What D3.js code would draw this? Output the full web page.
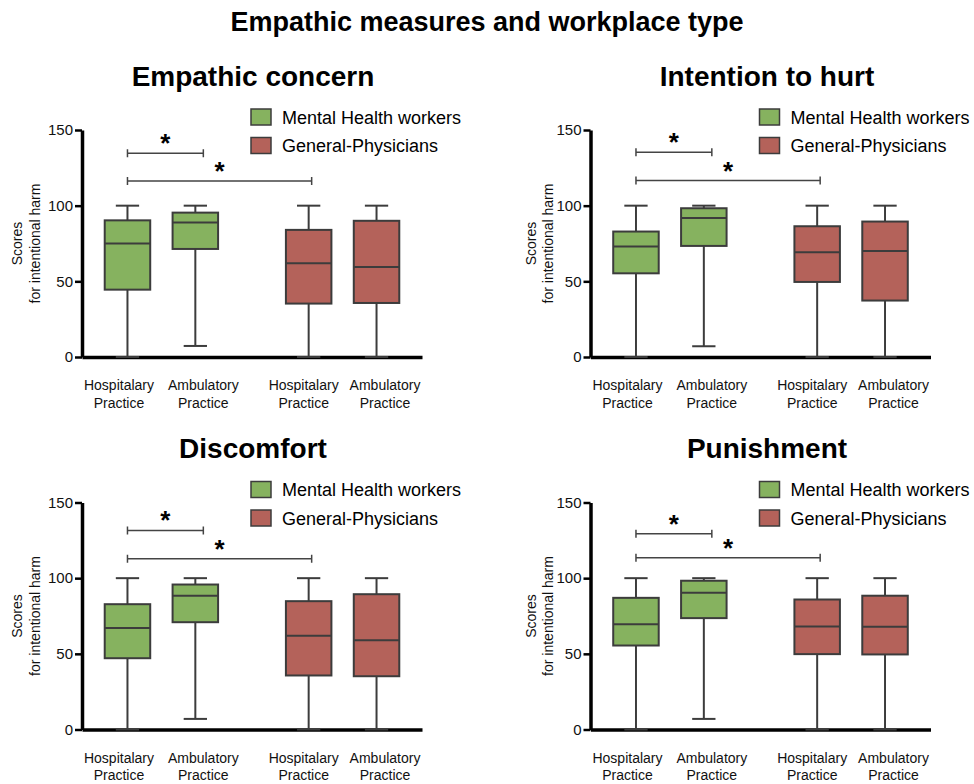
<!DOCTYPE html>
<html>
<head>
<meta charset="utf-8">
<script src="https://cdn.jsdelivr.net/npm/d3@7"></script>
<style>
body { margin: 0; background: #fff; }
svg { display: block; font-family: "Liberation Sans", Arial, sans-serif; }
</style>
</head>
<body>
<svg width="974" height="784"></svg>
<script>
var chartTitle = "Empathic measures and workplace type";
var panelTitles = ["Empathic concern", "Intention to hurt", "Discomfort", "Punishment"];
var seriesNames = ["Mental Health workers", "General-Physicians"];
var boxSeries = [0, 0, 1, 1];
var xLabels = [["Hospitalary", "Practice"], ["Ambulatory", "Practice"],
               ["Hospitalary", "Practice"], ["Ambulatory", "Practice"]];
var yTicks = [0, 50, 100, 150];
var yLabel = ["Scores", "for intentional harm"];

// box statistics, one row per panel, one value per box
var whiskerLow  = [[0, 7.3, 0, 0], [0, 7.1, 0, 0], [0, 7, 0, 0], [0, 7, 0, 0]];
var quart1      = [[44.5, 71.4, 35.3, 35.7], [55.3, 73.4, 49.6, 37.3], [47.1, 70.9, 35.7, 35.2], [55.5, 73.6, 49.8, 49.6]];
var medians     = [[75, 88.8, 62, 59.5], [73, 91.9, 69.2, 70.1], [67, 88.3, 61.9, 59], [69.6, 90.3, 68.1, 67.9]];
var quart3      = [[90.3, 95.4, 84, 90], [82.9, 98.3, 86.4, 89.5], [82.8, 95.8, 84.8, 89.4], [87, 98.3, 85.9, 88.4]];
var whiskerHigh = [[100, 100, 100, 100], [100, 100, 100, 100], [100, 100, 100, 100], [100, 100, 100, 100]];

// significance brackets: box index pairs and height on the score axis
var bracketFrom = [0, 0];
var bracketTo = [1, 2];
var bracketY = [[134.6, 116.3], [135.3, 116.6], [131.5, 112.8], [129.3, 113.5]];
var sigMark = "*";

var colors = ["#86b25f", "#b4625a"];
var lineColor = "#3c3c3c";

var colX = [82, 590.5];
var rowY = [130, 502.5];
var plotW = 340, plotH = 227;
var groupGap = 0.67;
var boxW = 45.5, capW = 23.3;
var labelDx = [-8.5, 8, -5, 8.5];
var bracketNudge = [8, 3];

var svg = d3.select("svg");

svg.append("text")
.text(chartTitle)
.attr("x", 487)
.attr("y", 31)
.attr("text-anchor", "middle")
.attr("font-weight", "bold")
.attr("font-size", "27px");

panelTitles.forEach(function (title, p) {
	var col = p % 2, row = Math.floor(p / 2);
	var x0 = colX[col], top = rowY[row];

	var y = d3.scaleLinear().domain([0, 150]).range([top + plotH, top]);
	var x = d3.scaleLinear().domain([-groupGap, 3 + groupGap * 2]).range([x0, x0 + plotW]);
	var slot = function (i) { return x(i + (boxSeries[i] ? groupGap : 0)); };

	var g = svg.append("g");

	g.append("text")
	.text(title)
	.attr("x", x0 + 171 + col * 5.5)
	.attr("y", top - 44.5)
	.attr("text-anchor", "middle")
	.attr("font-weight", "bold")
	.attr("font-size", "28px");

	// legend
	seriesNames.forEach(function (name, s) {
		var ly = top - 21 + s * 28.5;
		g.append("rect")
		.attr("x", x0 + 169)
		.attr("y", ly)
		.attr("width", 20)
		.attr("height", 16)
		.attr("fill", colors[s])
		.attr("stroke", lineColor)
		.attr("stroke-width", 1.5);
		g.append("text")
		.text(name)
		.attr("x", x0 + 200)
		.attr("y", ly + 14.5)
		.attr("font-size", "18px");
	});

	// y axis
	var yAxis = g.append("g")
	.attr("transform", "translate(" + x0 + ",0)")
	.call(d3.axisLeft(y).tickValues(yTicks).tickSize(7).tickSizeOuter(0).tickPadding(2));
	yAxis.select(".domain").attr("stroke", "#000").attr("stroke-width", 3.5);
	yAxis.selectAll(".tick line").attr("stroke", "#000").attr("stroke-width", 2.5);
	yAxis.selectAll(".tick text")
	.attr("font-size", "15px")
	.attr("font-family", "'Liberation Sans', Arial, sans-serif")
	.attr("fill", "#111");

	// x axis
	var xAxis = g.append("g")
	.attr("transform", "translate(0," + y(0) + ")")
	.call(d3.axisBottom(x).tickValues([]).tickSizeOuter(0));
	xAxis.select(".domain").attr("stroke", "#000").attr("stroke-width", 3.5);

	xLabels.forEach(function (lines, i) {
		lines.forEach(function (line, k) {
			g.append("text")
			.text(line)
			.attr("x", slot(i) + labelDx[i])
			.attr("y", y(0) + 33 + k * 17.5)
			.attr("text-anchor", "middle")
			.attr("font-size", "14px")
			.attr("fill", "#111");
		});
	});

	// y axis title
	var yMid = (y(0) + y(150)) / 2;
	yLabel.forEach(function (line, k) {
		g.append("text")
		.text(line)
		.attr("transform", "translate(" + (x0 - 60 + col * 5 + k * 17.7) + "," + yMid + ") rotate(-90)")
		.attr("text-anchor", "middle")
		.attr("font-size", "14px")
		.attr("fill", "#111");
	});

	// boxes
	boxSeries.forEach(function (s, i) {
		var cx = slot(i);
		g.append("line")
		.attr("x1", cx).attr("x2", cx)
		.attr("y1", y(whiskerLow[p][i])).attr("y2", y(quart1[p][i]))
		.attr("stroke", lineColor).attr("stroke-width", 2);
		g.append("line")
		.attr("x1", cx).attr("x2", cx)
		.attr("y1", y(quart3[p][i])).attr("y2", y(whiskerHigh[p][i]))
		.attr("stroke", lineColor).attr("stroke-width", 2);
		[whiskerLow[p][i], whiskerHigh[p][i]].forEach(function (v) {
			g.append("line")
			.attr("x1", cx - capW / 2).attr("x2", cx + capW / 2)
			.attr("y1", y(v)).attr("y2", y(v))
			.attr("stroke", lineColor).attr("stroke-width", 2);
		});
		g.append("rect")
		.attr("x", cx - boxW / 2)
		.attr("y", y(quart3[p][i]))
		.attr("width", boxW)
		.attr("height", y(quart1[p][i]) - y(quart3[p][i]))
		.attr("fill", colors[s])
		.attr("stroke", lineColor)
		.attr("stroke-width", 2);
		g.append("line")
		.attr("x1", cx - boxW / 2).attr("x2", cx + boxW / 2)
		.attr("y1", y(medians[p][i])).attr("y2", y(medians[p][i]))
		.attr("stroke", lineColor).attr("stroke-width", 2);
	});

	// significance brackets
	bracketFrom.forEach(function (a, b) {
		var xa = slot(a), xb = slot(bracketTo[b]) + bracketNudge[b];
		var by = y(bracketY[p][b]);
		g.append("path")
		.attr("d", "M" + xa + "," + (by - 4) + "V" + (by + 4) + "M" + xa + "," + by + "H" + xb +
			"M" + xb + "," + (by - 4) + "V" + (by + 4))
		.attr("fill", "none")
		.attr("stroke", "#444")
		.attr("stroke-width", 1.5);
		g.append("text")
		.text(sigMark)
		.attr("x", (xa + xb) / 2)
		.attr("y", by - 1)
		.attr("text-anchor", "middle")
		.attr("font-weight", "bold")
		.attr("font-size", "26px");
	});
});
</script>
</body>
</html>
